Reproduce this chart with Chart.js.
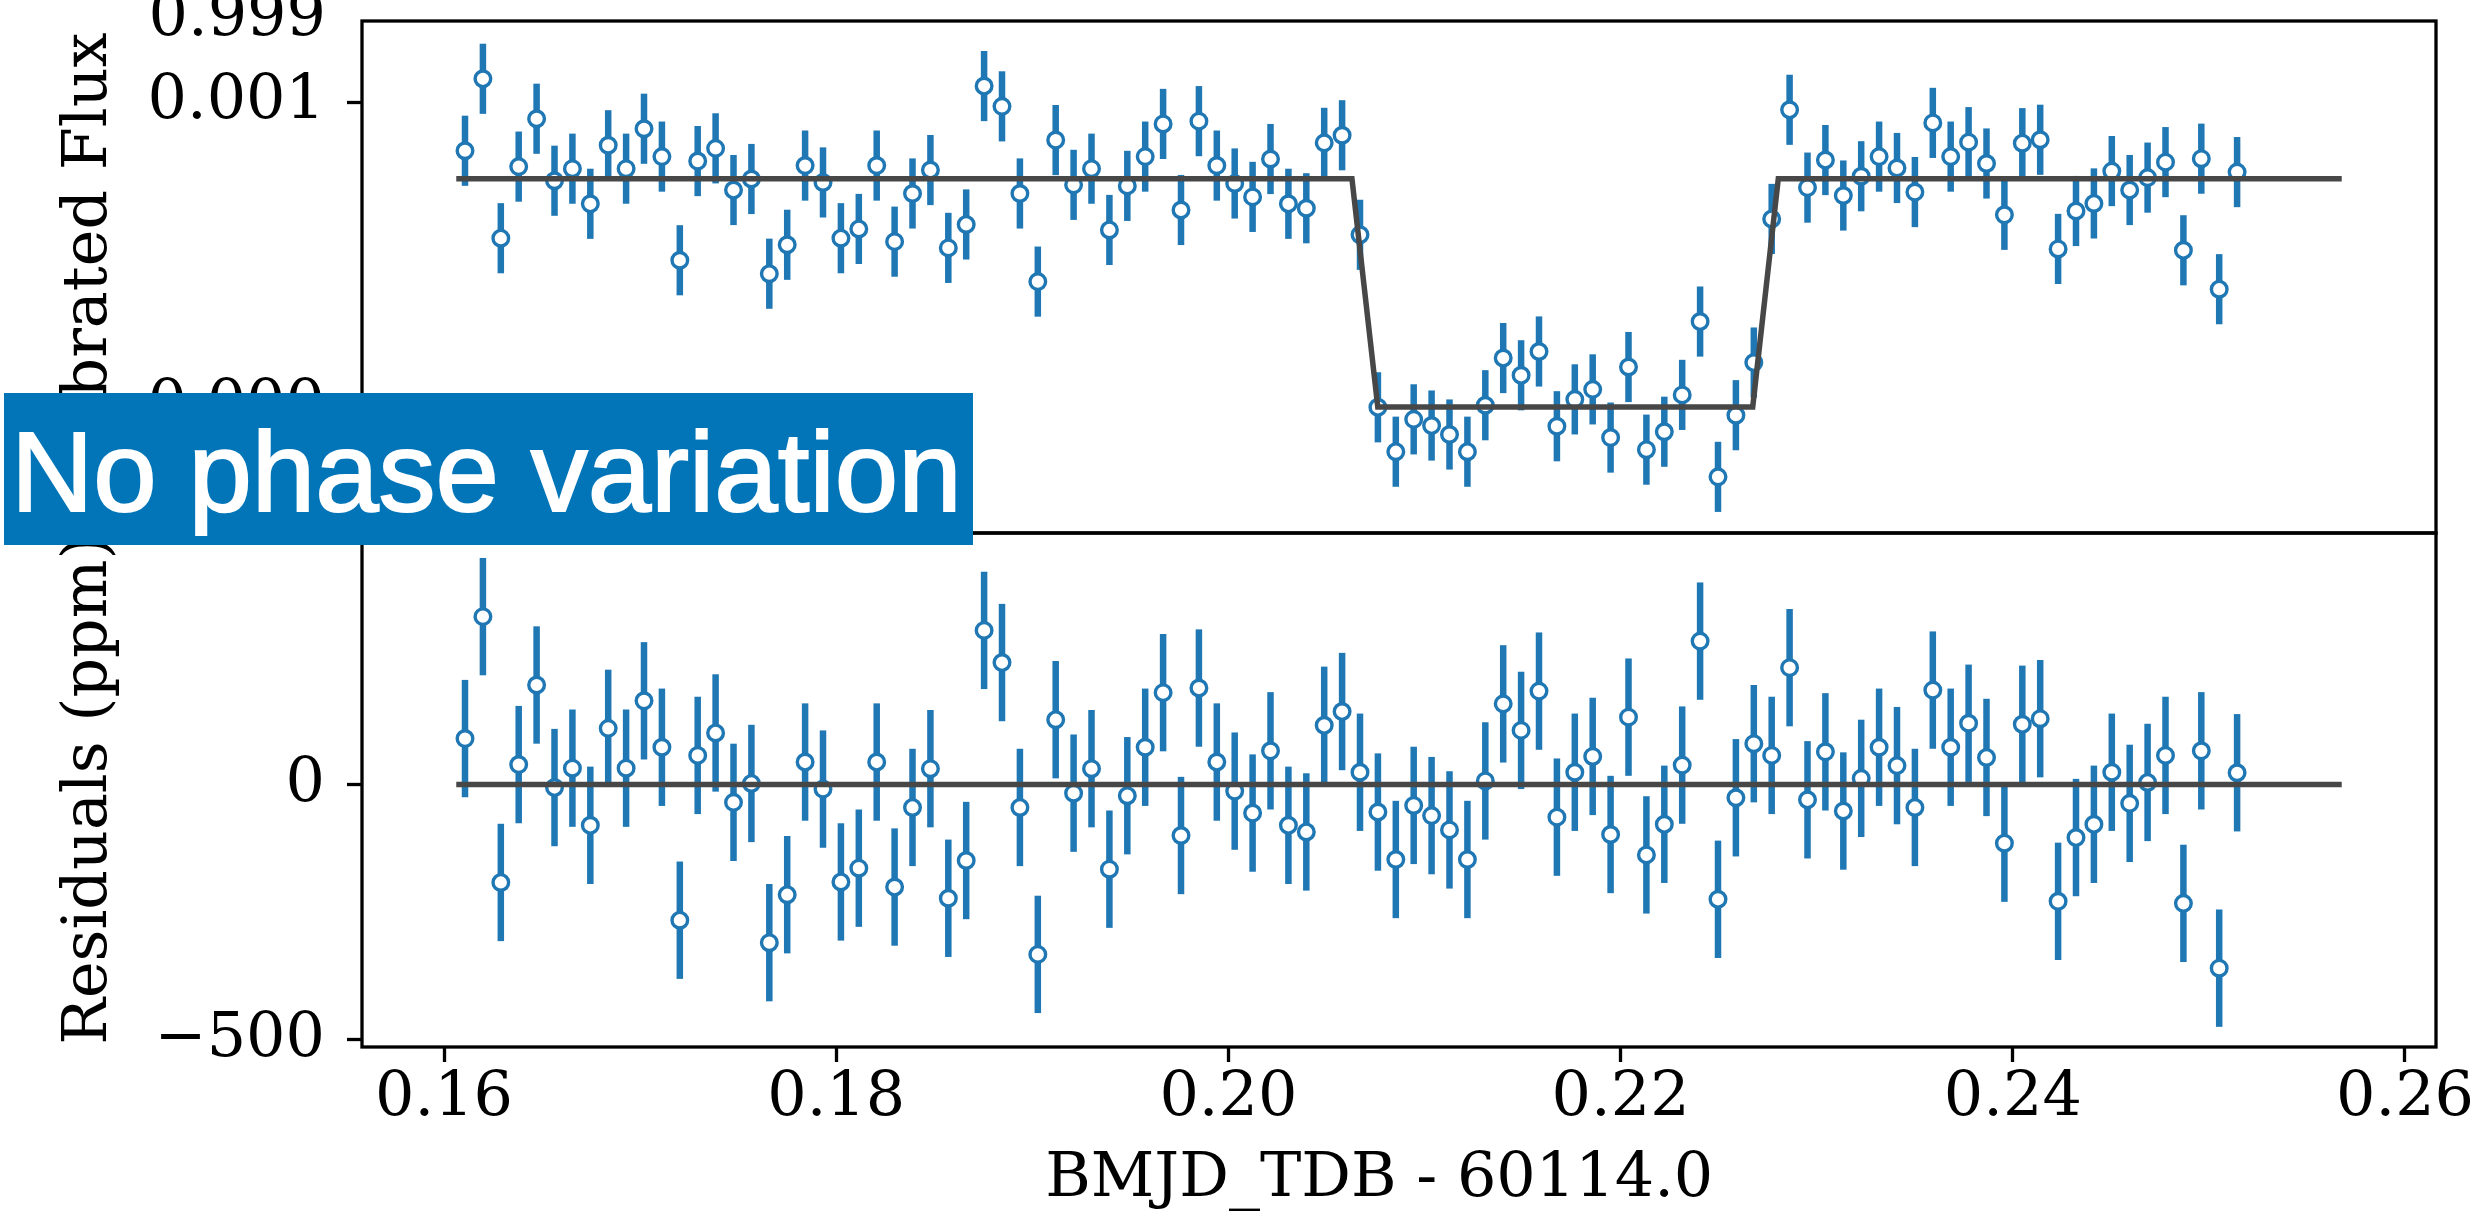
<!DOCTYPE html>
<html lang="en">
<head>
<meta charset="UTF-8">
<title>No phase variation</title>
<script src="https://cdn.jsdelivr.net/npm/chart.js"></script>
<style>
    html, body { margin: 0; padding: 0; background: #ffffff; }
    body { width: 2484px; height: 1230px; position: relative; overflow: hidden; }
    canvas { position: absolute; left: 0; top: 0; }
    .banner {
        position: absolute; left: 4px; top: 393px; width: 969px; height: 152px;
        background: #0275b9; color: #ffffff;
        font-family: "Liberation Sans", Arial, sans-serif; font-size: 114px; line-height: 157px;
        -webkit-text-stroke: 2px #ffffff;
        padding-left: 7px; box-sizing: border-box; white-space: nowrap; overflow: hidden;
    }
</style>
</head>
<body>
<canvas id="fluxChart" width="2484" height="1230"></canvas>
<canvas id="residChart" width="2484" height="1230"></canvas>
<div class="banner">No phase variation</div>

<script>
    // time of each exposure (BMJD_TDB - 60114.0)
    const times = [
        0.161071, 0.161984, 0.162897, 0.163809, 0.164722, 0.165635, 0.166548, 0.167461, 0.168373, 0.169286,
        0.170199, 0.171112, 0.172025, 0.172937, 0.173850, 0.174763, 0.175676, 0.176589, 0.177501, 0.178414,
        0.179327, 0.180240, 0.181153, 0.182065, 0.182978, 0.183891, 0.184804, 0.185717, 0.186629, 0.187542,
        0.188455, 0.189368, 0.190281, 0.191193, 0.192106, 0.193019, 0.193932, 0.194845, 0.195757, 0.196670,
        0.197583, 0.198496, 0.199409, 0.200321, 0.201234, 0.202147, 0.203060, 0.203973, 0.204885, 0.205798,
        0.206711, 0.207624, 0.208537, 0.209449, 0.210362, 0.211275, 0.212188, 0.213101, 0.214013, 0.214926,
        0.215839, 0.216752, 0.217665, 0.218577, 0.219490, 0.220403, 0.221316, 0.222229, 0.223141, 0.224054,
        0.224967, 0.225880, 0.226793, 0.227705, 0.228618, 0.229531, 0.230444, 0.231357, 0.232269, 0.233182,
        0.234095, 0.235008, 0.235921, 0.236833, 0.237746, 0.238659, 0.239572, 0.240485, 0.241397, 0.242310,
        0.243223, 0.244136, 0.245049, 0.245961, 0.246874, 0.247787, 0.248700, 0.249613, 0.250525, 0.251438
    ];

    // calibrated flux
    const flux = [
        0.9998405, 1.0000765, 0.9995537, 0.9997885, 0.9999455, 0.9997422, 0.9997817, 0.9996666, 0.9998585, 0.9997817,
        0.9999127, 0.9998213, 0.9994814, 0.9998066, 0.9998484, 0.9997117, 0.9997479, 0.9994373, 0.9995322, 0.9997919,
        0.9997366, 0.9995537, 0.9995841, 0.9997919, 0.9995424, 0.9997004, 0.9997772, 0.9995220, 0.9995988, 1.0000527,
        0.9999861, 0.9997004, 0.9994114, 0.9998755, 0.9997287, 0.9997817, 0.9995808, 0.9997253, 0.9998213, 0.9999285,
        0.9996462, 0.9999376, 0.9997919, 0.9997332, 0.9996892, 0.9998134, 0.9996666, 0.9996519, 0.9998664, 0.9998913,
        0.9995649, 0.9989992, 0.9988536, 0.9989597, 0.9989394, 0.9989100, 0.9988536, 0.9990060, 0.9991607, 0.9991042,
        0.9991822, 0.9989371, 0.9990252, 0.9990580, 0.9988999, 0.9991313, 0.9988603, 0.9989191, 0.9990399, 0.9992804,
        0.9987711, 0.9989733, 0.9991460, 0.9996169, 0.9999748, 0.9997196, 0.9998100, 0.9996937, 0.9997569, 0.9998213,
        0.9997840, 0.9997050, 0.9999319, 0.9998213, 0.9998687, 0.9997987, 0.9996304, 0.9998653, 0.9998766, 0.9995186,
        0.9996429, 0.9996677, 0.9997738, 0.9997117, 0.9997524, 0.9998032, 0.9995141, 0.9998145, 0.9993865, 0.9997705
    ];

    // residuals (ppm)
    const residuals = [
        90, 329, -192, 39, 195, -6, 32, -80, 110, 32,
        164, 73, -266, 57, 101, -35, 2, -310, -216, 44,
        -9, -191, -164, 44, -201, -45, 31, -223, -149, 302,
        239, -45, -333, 127, -17, 31, -166, -22, 73, 180,
        -100, 189, 44, -13, -56, 66, -80, -93, 116, 143,
        24, -54, -147, -41, -61, -89, -147, 7, 158, 106,
        183, -64, 24, 55, -98, 132, -138, -78, 38, 281,
        -225, -26, 80, 57, 229, -30, 64, -52, 12, 73,
        37, -45, 185, 73, 120, 53, -115, 118, 129, -229,
        -104, -78, 24, -37, 4, 57, -233, 66, -360, 23
    ];

    const errPpm = 115;

    // transit model
    const modelTime = [0.160625, 0.206300, 0.207618, 0.226737, 0.228041, 0.256773];
    const modelFlux = [0.999749, 0.999749, 0.999000, 0.999000, 0.999749, 0.999749];
    const zeroTime = [0.160625, 0.256773];
    const zeroResid = [0, 0];

    const xTicks = [0.16, 0.18, 0.20, 0.22, 0.24, 0.26];
    const xTickLabels = ['0.16', '0.18', '0.20', '0.22', '0.24', '0.26'];
    const fluxTicks = [0.999, 1.000];
    const fluxTickLabels = ['0.000', '0.001'];
    const fluxOffsetLabel = '0.999';
    const residTicks = [-500, 0];
    const residTickLabels = ['\u2212500', '0'];

    const BLUE = '#1f77b4';
    const MODEL = '#474747';
    const SERIF = "'DejaVu Serif', serif";

    function pairs(xs, ys) {
        return xs.map((x, i) => ({ x: x, y: ys[i] }));
    }

    // vertical error bars, under the markers
    const errorBars = {
        id: 'errorBars',
        beforeDatasetsDraw(chart) {
            const { ctx, chartArea, scales } = chart;
            ctx.save();
            ctx.beginPath();
            ctx.rect(chartArea.left, chartArea.top, chartArea.right - chartArea.left, chartArea.bottom - chartArea.top);
            ctx.clip();
            chart.data.datasets.forEach((ds, i) => {
                if (ds.yErr === undefined) return;
                const meta = chart.getDatasetMeta(i);
                ctx.strokeStyle = BLUE;
                ctx.lineWidth = 6.5;
                meta.data.forEach((pt, j) => {
                    const v = ds.data[j].y;
                    const top = scales.y.getPixelForValue(v + ds.yErr);
                    const bot = scales.y.getPixelForValue(v - ds.yErr);
                    ctx.beginPath();
                    ctx.moveTo(pt.x, top);
                    ctx.lineTo(pt.x, bot);
                    ctx.stroke();
                });
            });
            ctx.restore();
        }
    };

    // box round each panel
    const spines = {
        id: 'spines',
        afterDatasetsDraw(chart) {
            const { ctx, chartArea: a } = chart;
            ctx.save();
            ctx.strokeStyle = '#000';
            ctx.lineWidth = 3.3;
            ctx.strokeRect(a.left, a.top, a.right - a.left, a.bottom - a.top);
            ctx.restore();
        }
    };

    // offset text above the flux axis
    const offsetText = {
        id: 'offsetText',
        afterDraw(chart) {
            const ctx = chart.ctx;
            ctx.save();
            ctx.font = '62px ' + SERIF;
            ctx.fillStyle = '#000';
            ctx.textAlign = 'right';
            ctx.textBaseline = 'alphabetic';
            ctx.fillText(fluxOffsetLabel, 326, 35);
            ctx.restore();
        }
    };

    function yScale(min, max, ticks, labels, title) {
        return {
            type: 'linear', min: min, max: max,
            afterBuildTicks: axis => { axis.ticks = ticks.map(v => ({ value: v })); },
            afterFit: axis => {
                axis.width = 362;
                axis.paddingTop = 0;
                axis.paddingBottom = 0;
            },
            ticks: {
                callback: (v, i) => labels[i],
                font: { family: SERIF, size: 62 }, color: '#000', padding: 22
            },
            grid: { drawOnChartArea: false, drawTicks: true, tickLength: 15, tickWidth: 3.3, tickColor: '#000' },
            border: { display: false },
            title: {
                display: true, text: title, color: '#000',
                font: { family: SERIF, size: 62 }, padding: { top: 53, bottom: 0 }
            }
        };
    }

    const common = {
        responsive: false,
        animation: false,
        devicePixelRatio: 1,
        plugins: { legend: { display: false }, tooltip: { enabled: false } },
        events: []
    };

    const pointStyle = {
        pointRadius: 7.8, pointBorderWidth: 3.4,
        pointBackgroundColor: '#ffffff', pointBorderColor: BLUE
    };

    new Chart(document.getElementById('fluxChart'), {
        type: 'scatter',
        data: {
            datasets: [
                {
                    data: pairs(modelTime, modelFlux), showLine: true, pointRadius: 0,
                    borderColor: MODEL, borderWidth: 5.5, order: 0
                },
                Object.assign({ data: pairs(times, flux), yErr: errPpm * 1e-6, order: 1 }, pointStyle)
            ]
        },
        options: Object.assign({}, common, {
            layout: { padding: { left: 0, right: 48, top: 21, bottom: 697 } },
            scales: {
                x: { type: 'linear', min: 0.155818, max: 0.261581, display: false },
                y: yScale(0.998587, 1.000266, fluxTicks, fluxTickLabels, 'Calibrated Flux')
            }
        }),
        plugins: [errorBars, spines, offsetText]
    });

    new Chart(document.getElementById('residChart'), {
        type: 'scatter',
        data: {
            datasets: [
                {
                    data: pairs(zeroTime, zeroResid), showLine: true, pointRadius: 0,
                    borderColor: MODEL, borderWidth: 5.5, order: 0
                },
                Object.assign({ data: pairs(times, residuals), yErr: errPpm, order: 1 }, pointStyle)
            ]
        },
        options: Object.assign({}, common, {
            layout: { padding: { left: 0, right: 48, top: 533, bottom: 0 } },
            scales: {
                x: {
                    type: 'linear', min: 0.155818, max: 0.261581,
                    afterBuildTicks: axis => { axis.ticks = xTicks.map(v => ({ value: v })); },
                    afterFit: axis => {
                        axis.height = 183;
                        axis.paddingLeft = 0;
                        axis.paddingRight = 0;
                    },
                    ticks: {
                        callback: (v, i) => xTickLabels[i],
                        font: { family: SERIF, size: 62 }, color: '#000',
                        padding: 0, maxRotation: 0, autoSkip: false
                    },
                    grid: { drawOnChartArea: false, drawTicks: true, tickLength: 15, tickWidth: 3.3, tickColor: '#000' },
                    border: { display: false },
                    title: {
                        display: true, text: 'BMJD_TDB - 60114.0\u00a0\u00a0', color: '#000',
                        font: { family: SERIF, size: 62 }, padding: { top: 0, bottom: 13 }
                    }
                },
                y: yScale(-514.5, 492.9, residTicks, residTickLabels, 'Residuals (ppm)')
            }
        }),
        plugins: [errorBars, spines]
    });
</script>
</body>
</html>
